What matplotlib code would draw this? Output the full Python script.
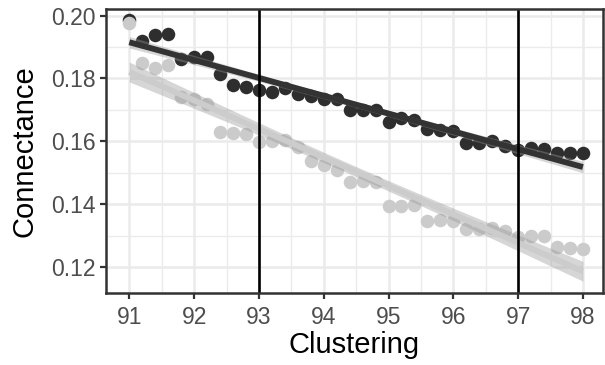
import numpy as np
import matplotlib
matplotlib.use("Agg")
import matplotlib.pyplot as plt

# ---- data ----
clustering = [91.0, 91.2, 91.4, 91.6, 91.8, 92.0, 92.2, 92.4, 92.6, 92.8,
              93.0, 93.2, 93.4, 93.6, 93.8, 94.0, 94.2, 94.4, 94.6, 94.8,
              95.0, 95.2, 95.4, 95.6, 95.8, 96.0, 96.2, 96.4, 96.6, 96.8,
              97.0, 97.2, 97.4, 97.6, 97.8, 98.0]
connectance_dark = [0.1985, 0.1920, 0.1938, 0.1942, 0.1861, 0.1869, 0.1867, 0.1814, 0.1779, 0.1774,
                    0.1763, 0.1758, 0.1768, 0.1752, 0.1744, 0.1736, 0.1735, 0.1699, 0.1699, 0.1700,
                    0.1662, 0.1673, 0.1667, 0.1638, 0.1635, 0.1632, 0.1593, 0.1593, 0.1600, 0.1585,
                    0.1572, 0.1580, 0.1574, 0.1563, 0.1563, 0.1563]
connectance_light = [0.1975, 0.1850, 0.1832, 0.1843, 0.1740, 0.1733, 0.1720, 0.1629, 0.1627, 0.1623,
                     0.1598, 0.1601, 0.1603, 0.1582, 0.1538, 0.1524, 0.1510, 0.1470, 0.1473, 0.1470,
                     0.1394, 0.1394, 0.1396, 0.1346, 0.1350, 0.1346, 0.1322, 0.1322, 0.1324, 0.1313,
                     0.1295, 0.1297, 0.1297, 0.1265, 0.1261, 0.1258]
vlines = [93, 97]
x_ticks = [91, 92, 93, 94, 95, 96, 97, 98]
y_ticks = [0.12, 0.14, 0.16, 0.18, 0.20]
x_minor = [91.5, 92.5, 93.5, 94.5, 95.5, 96.5, 97.5]
y_minor = [0.13, 0.15, 0.17, 0.19]
x_label = "Clustering"
y_label = "Connectance"

plt.rcParams['font.family'] = ['Liberation Sans', 'DejaVu Sans']

fig = plt.figure(figsize=(6.05, 3.65), dpi=100)
ax = fig.add_axes([106/605, 1 - 293/365, (603-106)/605, (293-9)/365])

x = np.array(clustering)
xs = np.linspace(x.min(), x.max(), 80)


def lm_band(xv, yv, xg):
    n = len(xv)
    b, a = np.polyfit(xv, yv, 1)
    fit = a + b * xv
    resid = yv - fit
    s = np.sqrt(np.sum(resid**2) / (n - 2))
    sxx = np.sum((xv - xv.mean())**2)
    yg = a + b * xg
    se = s * np.sqrt(1/n + (xg - xv.mean())**2 / sxx)
    t = 2.032  # t(0.975, 34)
    return yg, yg - t*se, yg + t*se


dark_c = '#2e2e2e'
light_c = '#cbcbcb'

ax.scatter(x, connectance_dark, s=95, color=dark_c, linewidths=0, zorder=3)
ax.scatter(x, connectance_light, s=95, color=light_c, linewidths=0, zorder=3)

for yv, lc in [(np.array(connectance_dark), '#333333'), (np.array(connectance_light), '#cccccc')]:
    yg, lo, hi = lm_band(x, yv, xs)
    ax.fill_between(xs, lo, hi, color='#999999', alpha=0.4, linewidth=0, zorder=4)
    ax.plot(xs, yg, color=lc, lw=4.2, solid_capstyle='butt', zorder=5)

for v in vlines:
    ax.axvline(v, color='black', lw=1.9, zorder=6)

ax.set_xticks(x_ticks)
ax.set_yticks(y_ticks)
ax.set_xticks(x_minor, minor=True)
ax.set_yticks(y_minor, minor=True)
ax.set_yticklabels([f"{v:.2f}" for v in y_ticks])
ax.set_xticklabels([str(v) for v in x_ticks])
ax.set_xlim(90.64, 98.31)
ax.set_ylim(0.1117, 0.2021)

ax.grid(True, which='major', color='#ebebeb', lw=1.8, zorder=0)
ax.grid(True, which='minor', color='#ebebeb', lw=1.0, zorder=0)
ax.set_axisbelow(True)

for sp in ax.spines.values():
    sp.set_color('#333333')
    sp.set_linewidth(1.8)
    sp.set_zorder(7)

ax.tick_params(which='major', length=4.3, width=1.6, color='#333333',
               labelsize=16.5, labelcolor='#4d4d4d')
ax.tick_params(axis='x', which='major', pad=4.9)
ax.tick_params(axis='y', which='major', pad=3.2)
ax.tick_params(which='minor', length=0)

ax.set_xlabel(x_label, fontsize=21, color='black', labelpad=1.7)
ax.set_ylabel(y_label, fontsize=21, color='black', labelpad=9)

fig.savefig('out.png', dpi=100)
